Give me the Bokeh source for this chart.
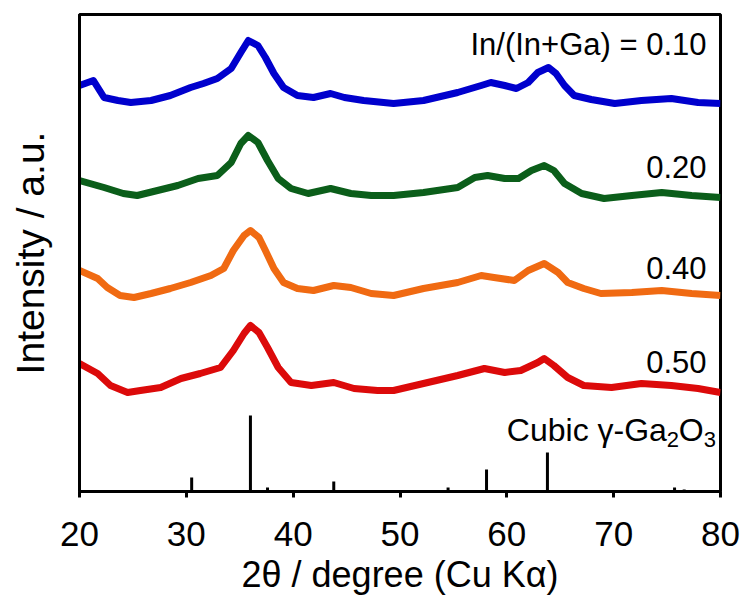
from bokeh.plotting import figure
from bokeh.models import Range1d, FixedTicker, Label
from bokeh.embed import file_html
from bokeh.resources import INLINE

# ---- data (2theta in degrees, intensity in arbitrary units, offset stacked) ----
tt_010 = [20, 21.3, 22.3, 23.6, 24.8, 26.7, 28.5, 30.4, 31.6, 32.9, 34.2, 35.1, 35.8, 36.7, 37.4, 38.2,
          39.1, 40.4, 41.9, 43.5, 44.8, 46.6, 49.4, 52.2, 55.4, 57.6, 58.5, 59.8, 60.9, 62.0, 62.9, 63.9,
          64.6, 65.4, 66.3, 67.9, 70.1, 72.6, 75.4, 77.9, 80]
int_010 = [406, 411, 394, 391, 389, 391, 396, 404, 408, 413, 423, 439, 451, 446, 434, 418,
           404, 396, 394, 398, 394, 391, 388, 391, 399, 406, 409, 406, 403, 409, 419, 424,
           418, 406, 396, 392, 388, 391, 393, 389, 388]

tt_020 = [20, 22.3, 24.1, 25.4, 27.3, 29.2, 31.1, 32.9, 34.2, 35.1, 35.8, 36.7, 37.6, 38.6, 39.8, 41.4,
          43.5, 45.4, 47.3, 49.4, 52.2, 55.4, 57.0, 58.2, 59.8, 61.1, 62.3, 63.5, 64.4, 65.4, 67.0, 69.1,
          71.7, 74.5, 77.3, 80]
int_020 = [311, 304, 298, 296, 301, 306, 313, 316, 329, 348, 356, 349, 331, 313, 303, 298,
           303, 298, 296, 296, 299, 304, 314, 316, 313, 313, 321, 326, 321, 308, 298, 293,
           296, 299, 296, 294]

tt_040 = [20, 21.7, 22.6, 23.8, 25.1, 26.7, 28.5, 30.4, 32.3, 33.5, 34.4, 35.4, 36.0, 36.8, 37.4, 38.2,
          39.1, 40.4, 41.9, 43.8, 45.4, 47.3, 49.4, 52.2, 55.4, 57.6, 58.8, 60.7, 62.0, 63.5, 64.8, 65.7,
          67.2, 68.8, 71.7, 74.5, 77.3, 80]
int_040 = [221, 213, 204, 196, 194, 198, 203, 209, 216, 223, 241, 256, 261, 254, 241, 223,
           209, 203, 201, 206, 204, 198, 196, 203, 209, 216, 214, 211, 221, 228, 219, 209,
           203, 198, 199, 201, 198, 196]

tt_050 = [20, 21.7, 22.9, 24.5, 25.7, 27.6, 29.5, 31.3, 33.2, 34.4, 35.4, 36.0, 36.8, 37.6, 38.6, 39.8,
          41.7, 43.8, 45.7, 47.9, 49.4, 52.2, 55.4, 57.9, 59.8, 61.3, 62.9, 63.5, 64.4, 65.7, 67.2, 69.8,
          72.6, 75.4, 77.9, 80]
int_050 = [128, 118, 106, 99, 101, 104, 113, 118, 124, 141, 158, 166, 159, 144, 124, 109,
           106, 109, 103, 101, 101, 108, 116, 123, 119, 121, 129, 133, 126, 114, 106, 104,
           108, 106, 103, 99]

# reference pattern: cubic gamma-Ga2O3
ref_pos = [30.5, 36.0, 37.6, 43.8, 54.5, 58.1, 63.8, 75.7, 76.6]
ref_int = [14, 76, 4, 10, 4, 22, 39, 4, 2]

x_ticks = [20, 30, 40, 50, 60, 70, 80]
series_labels = ["In/(In+Ga) = 0.10", "0.20", "0.40", "0.50"]
colors = ["#0000cd", "#0b5e1a", "#f06a12", "#dc0a0a"]

FONT = "Liberation Sans"

p = figure(width=745, height=602, output_backend="svg", toolbar_location=None,
           x_range=Range1d(20, 80), y_range=Range1d(0, 477),
           min_border_left=79, min_border_right=25, min_border_top=14, min_border_bottom=111)
p.background_fill_color = "white"
p.border_fill_color = "white"
p.xgrid.visible = False
p.ygrid.visible = False
p.outline_line_color = "black"
p.outline_line_width = 3

# curves
for xs, ys, c in zip([tt_010, tt_020, tt_040, tt_050], [int_010, int_020, int_040, int_050], colors):
    p.line(xs, ys, line_color=c, line_width=7, line_join="round")

# reference sticks
p.segment(x0=ref_pos, y0=[0] * len(ref_pos), x1=ref_pos, y1=ref_int, line_color="black", line_width=3)

# x axis
xa = p.xaxis[0]
xa.ticker = FixedTicker(ticks=x_ticks)
xa.major_label_overrides = {t: str(t) for t in x_ticks}
xa.minor_tick_line_color = None
xa.major_tick_in = 0
xa.major_tick_out = 6
xa.major_tick_line_width = 3
xa.axis_line_width = 3
xa.major_label_text_font = FONT
xa.major_label_text_font_size = "35px"
xa.major_label_text_color = "black"
xa.major_label_standoff = 24
xa.axis_label = "2θ / degree (Cu Kα)"
xa.axis_label_text_font = FONT
xa.axis_label_text_font_size = "36px"
xa.axis_label_text_font_style = "normal"
xa.axis_label_text_color = "black"
xa.axis_label_standoff = 5

# y axis
ya = p.yaxis[0]
ya.ticker = FixedTicker(ticks=[])
ya.minor_tick_line_color = None
ya.major_tick_line_color = None
ya.axis_line_width = 3
ya.axis_label = "Intensity / a.u."
ya.axis_label_text_font = FONT
ya.axis_label_text_font_size = "39px"
ya.axis_label_text_font_style = "normal"
ya.axis_label_text_color = "black"
ya.axis_label_standoff = 28

# series labels
label_x = 78.69
label_y = [447, 325, 224, 130]
for t, yv in zip(series_labels, label_y):
    p.add_layout(Label(x=label_x, y=yv, text=t, text_align="right", text_baseline="alphabetic",
                       text_font=FONT, text_font_size="31px", text_color="black"))

# "Cubic γ-Ga2O3" with subscripts
cx, cy = 60.0, 62
p.add_layout(Label(x=cx, y=cy, text="Cubic γ-Ga", text_align="left", text_baseline="alphabetic",
                   text_font=FONT, text_font_size="32px", text_color="black"))
p.add_layout(Label(x=cx, y=cy, x_offset=160, y_offset=-10, text="2", text_align="left",
                   text_baseline="alphabetic", text_font=FONT, text_font_size="22px", text_color="black"))
p.add_layout(Label(x=cx, y=cy, x_offset=172, text="O", text_align="left", text_baseline="alphabetic",
                   text_font=FONT, text_font_size="32px", text_color="black"))
p.add_layout(Label(x=cx, y=cy, x_offset=197, y_offset=-10, text="3", text_align="left",
                   text_baseline="alphabetic", text_font=FONT, text_font_size="22px", text_color="black"))

open("out.html", "w").write(file_html(p, INLINE))
